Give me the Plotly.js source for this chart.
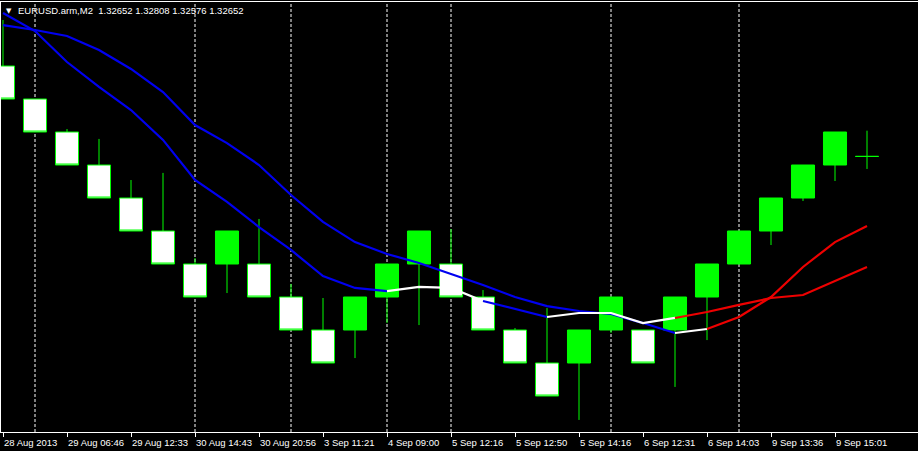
<!DOCTYPE html>
<html>
<head>
<meta charset="utf-8">
<script src="https://cdn.plot.ly/plotly-3.0.1.min.js"></script>
<style>
html,body{margin:0;padding:0;background:#000;overflow:hidden;}
#chart{width:918px;height:451px;}
</style>
</head>
<body>
<div id="chart"></div>
<script>
// ---- data ----
const symbolTitle = "EURUSD.arm,M2";
const lastBarOHLC = ["1.32652", "1.32808", "1.32576", "1.32652"];

const barIndex = [0,1,2,3,4,5,6,7,8,9,10,11,12,13,14,15,16,17,18,19,20,21,22,23,24,25,26,27];

const openP  = [1.3320,1.3300,1.3280,1.3260,1.3240,1.3220,1.3200,1.3200,1.3200,1.3180,1.3160,1.3160,1.3180,1.3200,
                1.3200,1.3180,1.3160,1.3140,1.3140,1.3160,1.3160,1.3160,1.3180,1.3200,1.3220,1.3240,1.3260,1.32652];
const highP  = [1.33479,1.3300,1.32818,1.32758,1.32509,1.32552,1.32036,1.3220,1.32273,1.31879,1.31794,1.3180,1.3200,1.3220,
                1.32212,1.31842,1.31612,1.31733,1.3160,1.3180,1.3160,1.3180,1.3200,1.3220,1.3240,1.3260,1.3280,1.32808];
const lowP   = [1.3300,1.3280,1.3260,1.3240,1.3220,1.3200,1.3180,1.31824,1.3180,1.3160,1.3140,1.31430,1.31642,1.31630,
                1.3180,1.3160,1.3140,1.3120,1.31055,1.31582,1.3140,1.31255,1.31539,1.3200,1.32115,1.32382,1.32503,1.32576];
const closeP = [1.3300,1.3280,1.3260,1.3240,1.3220,1.3200,1.3180,1.3220,1.3180,1.3160,1.3140,1.3180,1.3200,1.3220,
                1.3180,1.3160,1.3140,1.3120,1.3160,1.3180,1.3140,1.3180,1.3200,1.3220,1.3240,1.3260,1.3280,1.32652];

const maFast = [1.33521,1.33412,1.33224,1.33073,1.32933,1.32752,1.32509,1.32376,1.32224,1.32085,1.31927,1.31855,1.31836,1.31861,
                1.31855,1.31776,1.31727,1.31679,1.31703,1.31703,1.31642,1.31673,1.31709,1.31752,1.31794,1.31812,1.31897,1.31982];
const maSlow = [1.33448,1.33418,1.33382,1.33297,1.33182,1.33042,1.32842,1.32733,1.32600,1.32418,1.32255,1.32133,1.32061,1.32006,
                1.31939,1.31873,1.31800,1.31745,1.31715,1.31697,1.31642,1.31582,1.31606,1.31679,1.31800,1.31982,1.32133,1.32230];

// colour state of each segment between consecutive bars: B = down, W = flat, R = up
const maFastSeg = ["B","B","B","B","B","B","B","B","B","B","B","B","W","W","W","B","B","W","W","W","W","R","R","R","R","R","R"];
const maSlowSeg = ["B","B","B","B","B","B","B","B","B","B","B","B","B","B","B","B","B","B","B","B","B","W","R","R","R","R","R"];

const tickIndex  = [0,2,4,6,8,10,12,14,16,18,20,22,24,26];
const tickLabels = ["28 Aug 2013","29 Aug 06:46","29 Aug 12:33","30 Aug 14:43","30 Aug 20:56","3 Sep 11:21","4 Sep 09:00",
                    "5 Sep 12:16","5 Sep 12:50","5 Sep 14:16","6 Sep 12:31","6 Sep 14:03","9 Sep 13:36","9 Sep 15:01"];

const daySeparators = [1,6,9,12,14,19,23];

// ---- styles ----
const segColors = {B: "#0000f0", W: "#ffffff", R: "#ee0000"};
const lime = "#00ff00";
const font = "Liberation Sans, Arial, sans-serif";

function segmentTraces(vals, segs) {
  const out = [];
  let s = 0;
  while (s < segs.length) {
    let e = s;
    while (e + 1 < segs.length && segs[e + 1] === segs[s]) e++;
    out.push({
      type: "scatter", mode: "lines",
      x: barIndex.slice(s, e + 2), y: vals.slice(s, e + 2),
      line: {color: segColors[segs[s]], width: 2.2},
      hoverinfo: "skip", showlegend: false
    });
    s = e + 1;
  }
  return out;
}

const traces = [
  {
    type: "candlestick",
    x: barIndex, open: openP, high: highP, low: lowP, close: closeP,
    increasing: {line: {color: lime, width: 1}, fillcolor: lime},
    decreasing: {line: {color: lime, width: 1}, fillcolor: "#ffffff"},
    whiskerwidth: 0,
    hoverinfo: "skip", showlegend: false
  }
].concat(segmentTraces(maSlow, maSlowSeg), segmentTraces(maFast, maFastSeg));

const layout = {
  width: 918, height: 451,
  margin: {l: 1, r: 0, t: 2, b: 19, pad: 0},
  paper_bgcolor: "#000000", plot_bgcolor: "#000000",
  showlegend: false, hovermode: false,
  boxgap: 0.28, boxgroupgap: 0,
  xaxis: {
    range: [-0.0625, 28.59375],
    showgrid: false, zeroline: false,
    showline: true, linecolor: "#ffffff", linewidth: 1, mirror: true,
    tickmode: "array", tickvals: tickIndex, ticktext: tickLabels,
    ticks: "outside", ticklen: 4, tickcolor: "#ffffff", tickwidth: 1,
    tickangle: 0,
    ticklabelposition: "outside right",
    ticklabelstandoff: 2,
    tickfont: {family: font, size: 9.5, color: "#ffffff"},
    rangeslider: {visible: false}, fixedrange: true
  },
  yaxis: {
    range: [1.3098182, 1.3358788],
    showgrid: false, zeroline: false,
    showline: true, linecolor: "#ffffff", linewidth: 1,
    showticklabels: false, ticks: "", fixedrange: true
  },
  shapes: daySeparators.map(v => ({
    type: "line", xref: "x", yref: "paper", x0: v, x1: v, y0: 0, y1: 1,
    layer: "below", line: {color: "#ffffff", width: 1, dash: "3px,2px"}
  })),
  annotations: [
    {xref: "paper", yref: "paper", x: 0, y: 1, xanchor: "left", yanchor: "top",
     xshift: 3, yshift: -3, showarrow: false, text: "\u25BC",
     font: {family: "DejaVu Sans", size: 7, color: "#ffffff"}},
    {xref: "paper", yref: "paper", x: 0, y: 1, xanchor: "left", yanchor: "top",
     xshift: 15, yshift: -1, showarrow: false,
     text: symbolTitle + "\u00a0\u00a0" + lastBarOHLC.join(" "),
     font: {family: font, size: 9.5, color: "#ffffff"}}
  ]
};

Plotly.newPlot("chart", traces, layout, {staticPlot: true, displayModeBar: false});
</script>
</body>
</html>
